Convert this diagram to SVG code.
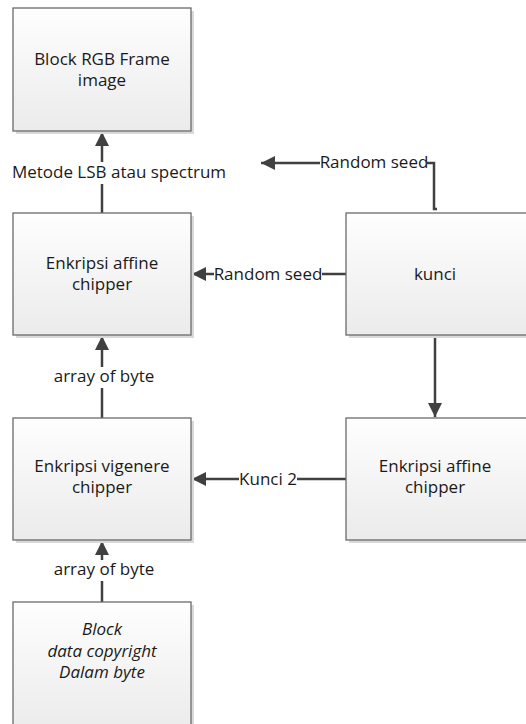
<svg xmlns="http://www.w3.org/2000/svg" width="526" height="724" viewBox="0 0 526 724">
<defs>
<linearGradient id="g" x1="0" y1="0" x2="0" y2="1">
<stop offset="0" stop-color="#fefefe"/>
<stop offset="1" stop-color="#ebebeb"/>
</linearGradient>
<marker id="ah" viewBox="0 0 14 14" refX="14" refY="7" markerWidth="14" markerHeight="14" markerUnits="userSpaceOnUse" orient="auto">
<path d="M0,0 L14,7 L0,14 Z" fill="#404040"/>
</marker>
<style>
.box{fill:url(#g);stroke:#6a6a6a;stroke-width:1.3}
.sh{fill:#d9d9d9}
.t{font-family:"Open Sans","Liberation Sans",sans-serif;font-size:17px;fill:#1a1a1a;text-anchor:middle}
.i{font-style:italic}
.c{fill:none;stroke:#404040;stroke-width:2.5}
.lb{font-family:"Open Sans","Liberation Sans",sans-serif;font-size:17px;fill:#1a1a1a;text-anchor:middle}
.bg{fill:#ffffff}
</style>
</defs>
<rect width="526" height="724" fill="#ffffff"/>
<g id="connectors">
<line class="c" x1="102" y1="213" x2="102" y2="132" marker-end="url(#ah)"/>
<path class="c" d="M437,209 L434,209 L434,163 L261,163" marker-end="url(#ah)"/>
<line class="c" x1="346" y1="274" x2="192" y2="274" marker-end="url(#ah)"/>
<line class="c" x1="435" y1="335" x2="435" y2="417" marker-end="url(#ah)"/>
<line class="c" x1="102" y1="418" x2="102" y2="336" marker-end="url(#ah)"/>
<line class="c" x1="346" y1="479" x2="192" y2="479" marker-end="url(#ah)"/>
<line class="c" x1="102" y1="602" x2="102" y2="541" marker-end="url(#ah)"/>
<rect class="bg" x="9" y="162" width="220" height="22"/>
<rect class="bg" x="320" y="153" width="107" height="20"/>
<rect class="bg" x="214" y="265" width="108" height="20"/>
<rect class="bg" x="239" y="470" width="58" height="20"/>
<rect class="bg" x="52" y="367" width="104" height="21"/>
<rect class="bg" x="52" y="560" width="104" height="21"/>
<text class="lb" x="119" y="178">Metode LSB atau spectrum</text>
<text class="lb" x="374" y="168">Random seed</text>
<text class="lb" x="268" y="280">Random seed</text>
<text class="lb" x="268" y="485">Kunci 2</text>
<text class="lb" x="104" y="382">array of byte</text>
<text class="lb" x="104" y="575">array of byte</text>
</g>
<g id="block-rgb">
<rect class="sh" x="16" y="11" width="178" height="123"/>
<rect class="box" x="13" y="8" width="178" height="123"/>
<text class="t" x="102" y="65">Block RGB Frame</text>
<text class="t" x="102" y="86">image</text>
</g>
<g id="enkripsi-affine-left">
<rect class="sh" x="16" y="216" width="178" height="122"/>
<rect class="box" x="13" y="213" width="178" height="122"/>
<text class="t" x="102" y="269">Enkripsi affine</text>
<text class="t" x="102" y="290">chipper</text>
</g>
<g id="kunci">
<rect class="sh" x="349" y="216" width="180" height="122"/>
<rect class="box" x="346" y="213" width="182" height="122"/>
<text class="t" x="435" y="280">kunci</text>
</g>
<g id="enkripsi-vigenere">
<rect class="sh" x="16" y="421" width="178" height="122"/>
<rect class="box" x="13" y="418" width="178" height="122"/>
<text class="t" x="102" y="472">Enkripsi vigenere</text>
<text class="t" x="102" y="493">chipper</text>
</g>
<g id="enkripsi-affine-right">
<rect class="sh" x="349" y="421" width="180" height="122"/>
<rect class="box" x="346" y="418" width="182" height="122"/>
<text class="t" x="435" y="472">Enkripsi affine</text>
<text class="t" x="435" y="493">chipper</text>
</g>
<g id="block-data">
<rect class="sh" x="16" y="605" width="178" height="130"/>
<rect class="box" x="13" y="602" width="178" height="130"/>
<text class="t i" x="102" y="635">Block</text>
<text class="t i" x="102" y="657">data copyright</text>
<text class="t i" x="102" y="678">Dalam byte</text>
</g>
</svg>
